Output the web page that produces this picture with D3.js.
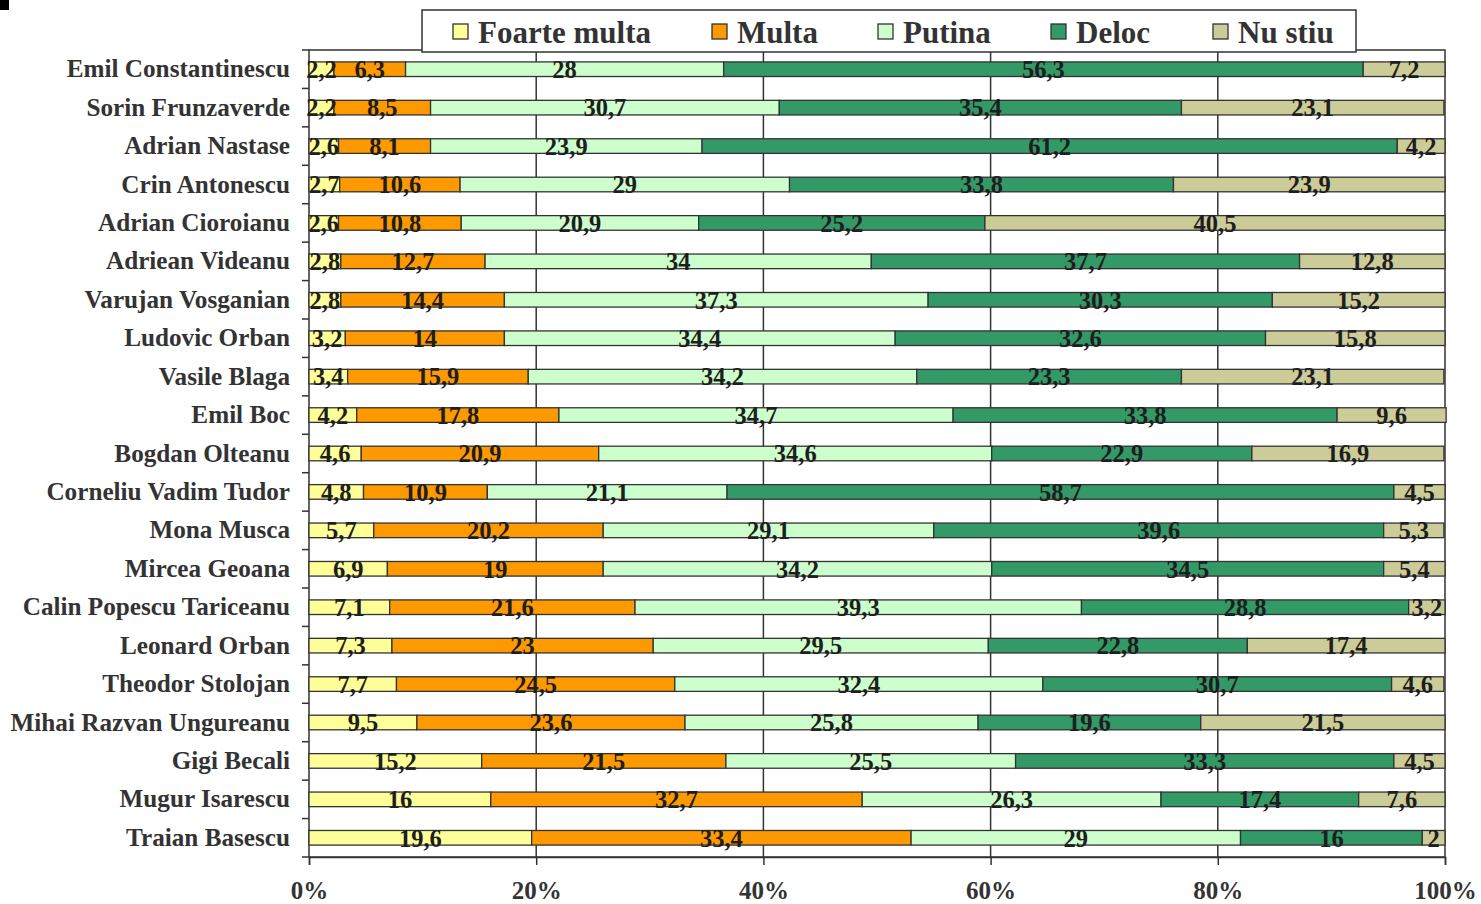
<!DOCTYPE html>
<html><head><meta charset="utf-8">
<script src="https://cdn.jsdelivr.net/npm/d3@7/dist/d3.min.js"></script>
<style>
body{margin:0;background:#fff;}
svg{display:block;font-family:"Liberation Serif","Times New Roman",serif;font-weight:bold;}
</style></head>
<body>
<svg id="c" width="1481" height="904"></svg>
<script>
const categories = ["Emil Constantinescu","Sorin Frunzaverde","Adrian Nastase","Crin Antonescu","Adrian Cioroianu","Adriean Videanu","Varujan Vosganian","Ludovic Orban","Vasile Blaga","Emil Boc","Bogdan Olteanu","Corneliu Vadim Tudor","Mona Musca","Mircea Geoana","Calin Popescu Tariceanu","Leonard Orban","Theodor Stolojan","Mihai Razvan Ungureanu","Gigi Becali","Mugur Isarescu","Traian Basescu"];
const seriesNames = ["Foarte multa","Multa","Putina","Deloc","Nu stiu"];
const foarteMulta = [2.2,2.2,2.6,2.7,2.6,2.8,2.8,3.2,3.4,4.2,4.6,4.8,5.7,6.9,7.1,7.3,7.7,9.5,15.2,16,19.6];
const multa = [6.3,8.5,8.1,10.6,10.8,12.7,14.4,14,15.9,17.8,20.9,10.9,20.2,19,21.6,23,24.5,23.6,21.5,32.7,33.4];
const putina = [28,30.7,23.9,29,20.9,34,37.3,34.4,34.2,34.7,34.6,21.1,29.1,34.2,39.3,29.5,32.4,25.8,25.5,26.3,29];
const deloc = [56.3,35.4,61.2,33.8,25.2,37.7,30.3,32.6,23.3,33.8,22.9,58.7,39.6,34.5,28.8,22.8,30.7,19.6,33.3,17.4,16];
const nuStiu = [7.2,23.1,4.2,23.9,40.5,12.8,15.2,15.8,23.1,9.6,16.9,4.5,5.3,5.4,3.2,17.4,4.6,21.5,4.5,7.6,2];
const tickValues = [0,20,40,60,80,100];
const colors = ["#FFFF99","#FF9900","#CCFFCC","#339966","#CCCC99"];

const seriesData = [foarteMulta, multa, putina, deloc, nuStiu];
const rows = categories.map((c,i)=>{const o={cat:c}; seriesNames.forEach((s,j)=>o[s]=seriesData[j][i]); return o;});
const stack = d3.stack().keys(seriesNames)(rows);

const svg = d3.select("#c");
const L=309, R=1445, T=50, B=857;
const x = d3.scaleLinear().domain([0,100]).range([L,R]);
const y = d3.scaleBand().domain(categories).range([T,B]).paddingInner(0.62).paddingOuter(0.31);
const ink="#333";

// corner mark
svg.append("rect").attr("x",0).attr("y",0).attr("width",9).attr("height",10).attr("fill","#000");

// gridlines
svg.append("g").selectAll("line").data(tickValues.slice(1,-1)).join("line")
  .attr("x1",d=>x(d)).attr("x2",d=>x(d)).attr("y1",T).attr("y2",B)
  .attr("stroke",ink).attr("stroke-width",1.5);

// frame
svg.append("rect").attr("x",L).attr("y",T).attr("width",R-L).attr("height",B-T)
  .attr("fill","none").attr("stroke",ink).attr("stroke-width",1.5);

// bars
const g = svg.append("g");
stack.forEach((layer,j)=>{
  g.append("g").selectAll("rect").data(layer).join("rect")
    .attr("x",d=>x(d[0])).attr("width",d=>x(d[1])-x(d[0]))
    .attr("y",d=>y(d.data.cat)).attr("height",y.bandwidth())
    .attr("fill",colors[j]).attr("stroke",ink).attr("stroke-width",1.3);
});
// labels
stack.forEach((layer,j)=>{
  g.append("g").selectAll("text").data(layer).join("text")
    .attr("x",d=>(x(d[0])+x(d[1]))/2).attr("y",d=>y(d.data.cat)+y.bandwidth()/2)
    .attr("dy","0.36em").attr("text-anchor","middle")
    .attr("font-size",24.5).attr("fill","#1e1e1e")
    .text(d=>String(d.data[layer.key]).replace(".",","));
});

// left axis
const yAxis = d3.axisLeft(y).tickSize(0).tickPadding(19);
const ya = svg.append("g").attr("transform",`translate(${L},0)`).call(yAxis);
ya.select(".domain").remove();
ya.selectAll("text").attr("font-size",25.2).attr("fill",ink).attr("font-family","Liberation Serif").attr("font-weight","bold");
// category boundary ticks
const bounds = d3.range(categories.length+1).map(i=>T + i*y.step());
svg.append("g").selectAll("line").data(bounds).join("line")
  .attr("x1",L-7).attr("x2",L).attr("y1",d=>d).attr("y2",d=>d)
  .attr("stroke",ink).attr("stroke-width",1.5);

// bottom axis
const xAxis = d3.axisBottom(x).tickValues(tickValues).tickSize(8).tickPadding(16).tickFormat(d=>d+"%");
const xa = svg.append("g").attr("transform",`translate(0,${B})`).call(xAxis);
xa.select(".domain").attr("stroke",ink).attr("stroke-width",1.5);
xa.selectAll(".tick line").attr("stroke",ink).attr("stroke-width",1.5);
xa.selectAll("text").attr("font-size",25).attr("fill",ink).attr("font-family","Liberation Serif").attr("font-weight","bold");

// legend
const lg = svg.append("g");
lg.append("rect").attr("x",422).attr("y",10).attr("width",934).attr("height",42)
  .attr("fill","#fff").attr("stroke",ink).attr("stroke-width",1.5);
const legX = [453,712,878,1051,1213];
seriesNames.forEach((s,j)=>{
  lg.append("rect").attr("x",legX[j]).attr("y",24).attr("width",15).attr("height",15)
    .attr("fill",colors[j]).attr("stroke",ink).attr("stroke-width",1.3);
  lg.append("text").attr("x",legX[j]+25).attr("y",31.5).attr("dy","0.36em")
    .attr("font-size",31).attr("fill",ink).text(s);
});
</script>
</body></html>
